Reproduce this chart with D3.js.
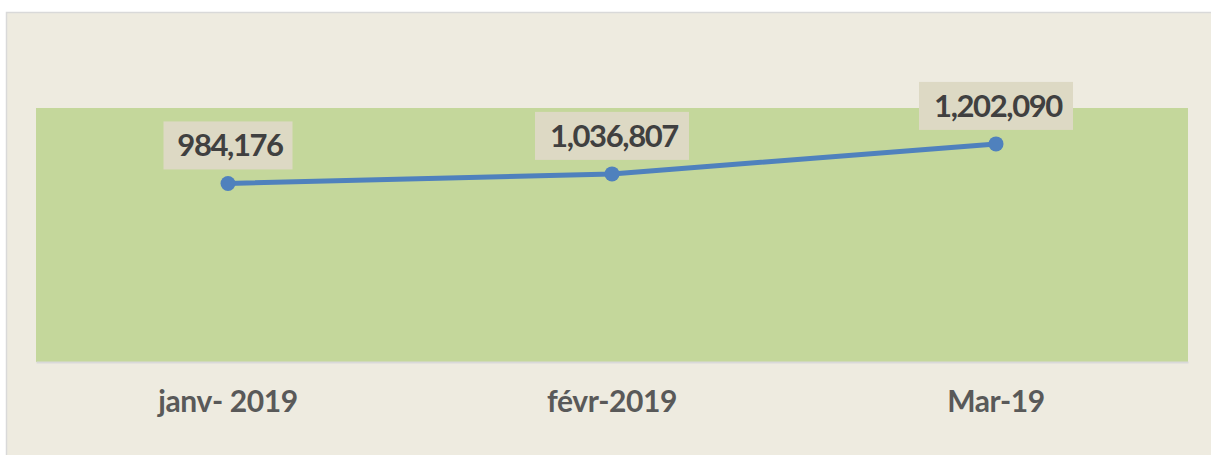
<!DOCTYPE html>
<html>
<head>
<meta charset="utf-8">
<script src="https://cdn.jsdelivr.net/npm/d3@7"></script>
<style>
  html, body { margin: 0; padding: 0; background: #ffffff; }
  svg { display: block; }
</style>
</head>
<body>
<svg id="chart" width="1211" height="455"></svg>
<script>
const categories = ["janv- 2019", "févr-2019", "Mar-19"];
const values = [984176, 1036807, 1202090];
const yDomain = [0, 1400000];

const svg = d3.select("#chart");
const W = 1211, H = 455;
const plot = { left: 36, right: 1188, top: 108, bottom: 362 };
const FONT = "Lato, 'Open Sans', sans-serif";

// outer chart area
svg.append("rect")
  .attr("x", 6.5).attr("y", 12.5)
  .attr("width", W + 10).attr("height", H + 10)
  .attr("fill", "#EEEBE0")
  .attr("stroke", "#D9D9D9").attr("stroke-width", 1.5);

// plot area
svg.append("rect")
  .attr("x", plot.left).attr("y", plot.top)
  .attr("width", plot.right - plot.left).attr("height", plot.bottom - plot.top)
  .attr("fill", "#C4D79B");

const x = d3.scaleBand().domain(categories).range([plot.left, plot.right]);
const y = d3.scaleLinear().domain(yDomain).range([plot.bottom, plot.top]);

// x axis
const xAxis = svg.append("g")
  .attr("transform", `translate(0,${plot.bottom})`)
  .call(d3.axisBottom(x).tickSize(0).tickPadding(29));
xAxis.select(".domain").attr("stroke", "#D9D9D9").attr("stroke-width", 2);
xAxis.selectAll("text")
  .attr("font-family", FONT)
  .attr("font-weight", "bold")
  .attr("font-size", 30)
  .attr("letter-spacing", -0.4)
  .attr("fill", "#595959");

const cx = d => x(d) + x.bandwidth() / 2;
const data = categories.map((c, i) => ({ c, v: values[i] }));

// line
svg.append("path")
  .datum(data)
  .attr("fill", "none")
  .attr("stroke", "#4F81BD")
  .attr("stroke-width", 5)
  .attr("stroke-linejoin", "round")
  .attr("d", d3.line().x(d => cx(d.c)).y(d => y(d.v)));

// markers
svg.selectAll("circle.pt")
  .data(data).join("circle")
  .attr("class", "pt")
  .attr("cx", d => cx(d.c))
  .attr("cy", d => y(d.v))
  .attr("r", 7.5)
  .attr("fill", "#4F81BD");

// labels
const fmt = d3.format(",");
const lab = svg.selectAll("g.lab").data(data).join("g").attr("class", "lab");
lab.each(function(d) {
  const g = d3.select(this);
  const t = g.append("text")
    .attr("x", cx(d.c) + 2)
    .attr("y", y(d.v) - 38)
    .attr("dy", "0.35em")
    .attr("text-anchor", "middle")
    .attr("font-family", FONT)
    .attr("font-weight", "bold")
    .attr("font-size", 31)
    .attr("letter-spacing", -1.4)
    .attr("fill", "#404040")
    .text(fmt(d.v));
  const bw = fmt(d.v).length > 7 ? 154 : 129;
  g.insert("rect", "text")
    .attr("x", cx(d.c) - bw / 2)
    .attr("y", y(d.v) - 62)
    .attr("width", bw)
    .attr("height", 48)
    .attr("fill", "#DDD9C4");
});
</script>
</body>
</html>
